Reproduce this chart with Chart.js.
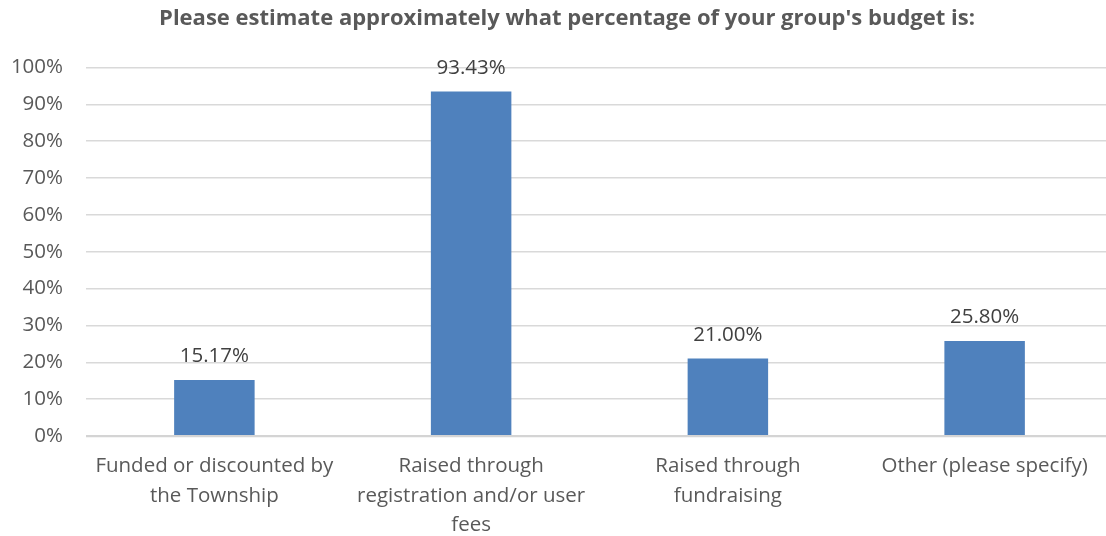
<!DOCTYPE html>
<html>
<head>
<meta charset="utf-8">
<script src="https://cdn.jsdelivr.net/npm/chart.js@4/dist/chart.umd.min.js"></script>
<style>
  html, body { margin: 0; padding: 0; background: #ffffff; }
  #wrap { width: 1106px; height: 536px; overflow: hidden; }
  #c { display: block; }
</style>
</head>
<body>
<div id="wrap"><canvas id="c" width="1134" height="536" style="width:1134px;height:536px"></canvas></div>
<script>
const chartTitle = "Please estimate approximately what percentage of your group's budget is:";
const categories = [
  ["Funded or discounted by", "the Township"],
  ["Raised through", "registration and/or user", "fees"],
  ["Raised through", "fundraising"],
  ["Other (please specify)"]
];
const shares = [15.17, 93.43, 21.00, 25.80];
const yTicks = [0, 10, 20, 30, 40, 50, 60, 70, 80, 90, 100];

const FONT = "'Open Sans', 'Liberation Sans', sans-serif";

// Writes each bar's value just above it
const valueLabels = {
  id: 'valueLabels',
  afterDatasetsDraw(chart) {
    const ctx = chart.ctx;
    const meta = chart.getDatasetMeta(0);
    ctx.save();
    ctx.font = "20.5px " + FONT;
    ctx.fillStyle = '#404040';
    ctx.textAlign = 'center';
    ctx.textBaseline = 'alphabetic';
    meta.data.forEach((bar, i) => {
      ctx.fillText(shares[i].toFixed(2) + '%', bar.x, bar.y - 18);
    });
    ctx.restore();
  }
};

new Chart(document.getElementById('c'), {
  type: 'bar',
  data: {
    labels: categories,
    datasets: [{
      data: shares,
      backgroundColor: '#4f81bd',
      borderWidth: 0,
      categoryPercentage: 0.5,
      barPercentage: 0.627
    }]
  },
  options: {
    responsive: false,
    animation: false,
    layout: { padding: 0 },
    plugins: {
      legend: { display: false },
      tooltip: { enabled: false },
      title: {
        display: true,
        text: chartTitle,
        color: '#595959',
        font: { family: FONT, size: 22, weight: 'bold', lineHeight: 1.2 },
        padding: { top: 6, bottom: 35 }
      }
    },
    scales: {
      y: {
        min: 0,
        max: 100,
        afterBuildTicks(axis) { axis.ticks = yTicks.map(v => ({ value: v })); },
        afterFit(axis) { axis.width = 86; },
        ticks: {
          color: '#595959',
          font: { family: FONT, size: 20.5 },
          padding: 23,
          callback: v => v + '%'
        },
        grid: {
          color: ctx => ctx.tick && ctx.tick.value === 0 ? '#d4d4d4' : '#d9d9d9',
          lineWidth: ctx => ctx.tick && ctx.tick.value === 0 ? 2.2 : 1.4,
          drawTicks: false
        },
        border: { display: false }
      },
      // empty right-hand margin so the plot stops short of the canvas edge
      yRight: {
        position: 'right',
        min: 0,
        max: 100,
        afterFit(axis) { axis.width = 21; },
        ticks: { display: false },
        grid: { display: false, drawTicks: false },
        border: { display: false }
      },
      x: {
        afterFit(axis) { axis.height = 100; },
        ticks: {
          color: '#595959',
          font: { family: FONT, size: 20.5, lineHeight: 1.42 },
          padding: 16,
          maxRotation: 0,
          autoSkip: false
        },
        grid: { display: false, drawTicks: false },
        border: { display: false }
      }
    }
  },
  plugins: [valueLabels]
});
</script>
</body>
</html>
